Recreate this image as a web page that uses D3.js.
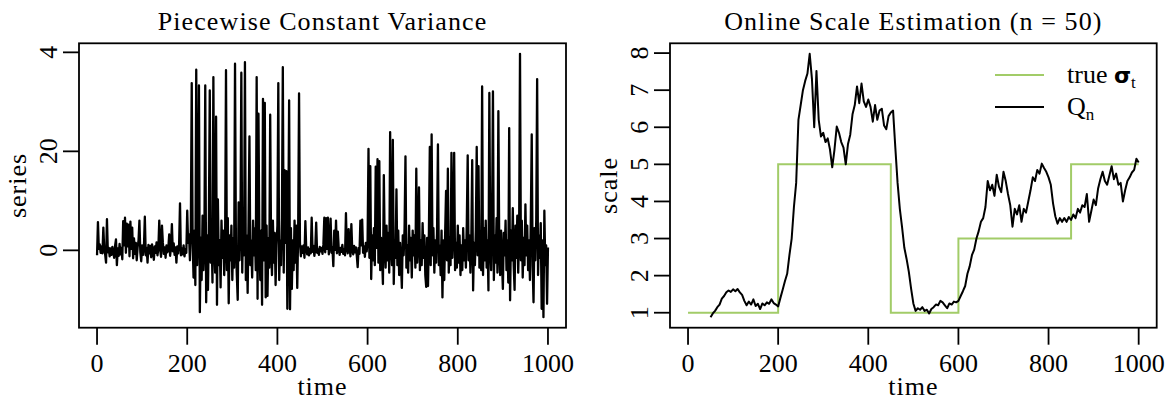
<!DOCTYPE html>
<html>
<head>
<meta charset="utf-8">
<script src="https://cdn.jsdelivr.net/npm/d3@7"></script>
<style>
  body { margin: 0; background: #fff; }
  text { font-family: "Liberation Serif", "Times New Roman", serif; fill: #000; }
</style>
</head>
<body>
<div id="chart"></div>
<script>
// left panel: simulated series, one value every 2 time units (t = 0, 2, ..., 1000)
const seriesValues = [
  -1.0, 5.7, 0.3, 1.2, -0.5, 0.8, -0.6, 4.6, 0.2, -0.8, -2.5, 6.3, -0.4, 0.5, -1.2, 0.4, -0.9, 0.7, -0.3, -1.5,
  0.9, 2.2, -3.0, 0.4, -1.1, 1.3, -0.8, 0.5, -1.8, 5.9, 1.0, 6.6, -0.5, 5.4, 0.8, 5.2, -1.2, 5.8, 0.3, 4.6,
  -1.6, 2.4, -0.7, 1.5, -2.0, 0.6, 2.0, 6.0, -0.4, -2.2,
  1.0, -0.9, 0.7, 6.8, -1.0, 0.5, -2.5, 1.1, -0.6, 0.9, -1.4, 1.2, -0.3, -1.9, 0.8, -0.5, 1.6, -1.0, 0.4, 6.0,
  0.2, -1.3, 5.0, 1.5, -0.7, 0.6, -1.5, 1.0, -0.4, 0.3, 3.2, -1.1, 0.5, 5.3, -0.2, 1.4, -0.9, 0.6, -2.5, 0.8,
  -0.6, 1.2, 9.5, -1.0, 0.4, -0.8, 1.0, -1.2, 0.3, -0.5,
  8.0, 1.5, 3.2, -2.0, 4.5, 33.8, 2.0, -5.5, 4.0, -7.0, 36.5, -3.0, 5.0, 33.3, -12.5, 2.5, -6.0, 7.0, -4.0, 1.0,
  33.3, -10.5, 3.0, -8.0, 5.5, 32.3, -2.5, 4.0, -6.5, 35.0, 0.5, -4.5, 27.0, -11.0, 10.3, -3.0, 2.0, -7.5, 6.0, -1.5,
  4.0, -5.0, 1.5, 36.4, -4.0, 6.5, -10.7, 3.0, -2.0, 5.0,
  -6.0, 2.5, -3.5, 37.7, 1.0, -5.0, -10.0, 9.7, -2.0, 4.0, 35.9, -4.5, 7.0, -1.0, 38.0, -6.0, 3.0, -8.6, 5.5, 23.0,
  -3.0, 2.0, -5.5, 6.0, -1.0, 4.5, -4.0, 35.0, -9.8, 27.6, 1.5, -6.0, 4.0, -11.0, 30.6, -2.0, 29.8, -9.5, 5.0, -9.2,
  2.5, -3.5, 27.4, 0.5, -5.0, 6.0, -2.5, 3.5, -7.0, 1.0,
  5.0, 33.8, -6.0, 2.0, -3.0, 6.5, 37.0, -4.5, 16.2, 1.5, 16.0, -11.8, 3.0, 30.3, -11.9, 4.5, -7.8, 2.0, -4.0, 6.0,
  -2.5, 5.0, -7.6, 3.5, 31.7, 1.5, -1.2, 0.8, -0.5, 1.0, -1.5, 5.9, 0.2, -0.8, 0.6, -1.0, 0.3, -0.6, 6.6, -0.3,
  0.9, -1.1, 0.4, 5.6, -0.5, 0.2, -0.9, 0.7, -0.2, 0.5,
  -0.7, 1.2, 6.6, -0.4, 6.5, 0.3, 6.6, -0.8, 1.0, 6.4, -0.5, 0.6, -3.2, 4.0, 0.1, 6.0, -0.6, 3.8, 0.4, -0.9,
  0.5, -0.3, 1.1, -0.7, 0.2, -1.0, 7.5, 0.4, -0.6, 4.3, 0.8, -1.2, 5.3, 0.0, -0.8, 0.9, -0.4, 0.6, -1.0, -3.4,
  0.5, -0.7, 6.0, 1.0, 6.2, -0.5, 0.8, -1.3, 1.5, -0.2,
  2.0, 20.5, -1.5, 17.0, -5.8, 3.0, -2.0, 4.5, -3.0, 16.9, 0.5, 18.4, -2.5, 18.0, -4.0, 2.5, -1.0, -6.8, 15.2, 1.0,
  -3.5, 5.0, -2.0, 3.5, -4.5, 23.9, 0.5, -3.0, 22.3, -6.8, 2.0, -1.5, 12.3, -3.0, 4.0, -5.0, 1.5, -2.5, -7.6, 3.0,
  -1.0, 4.5, 19.0, -3.5, 1.0, -4.5, 5.0, -2.0, 2.5, -5.5,
  4.0, -1.0, 3.0, -3.5, 16.5, -2.5, 1.5, 12.7, -4.0, 2.0, -3.0, 5.5, -1.5, 3.0, -5.0, -7.4, 2.5, -7.2, 4.0, 20.9,
  -3.0, 23.4, -1.0, 4.5, -4.5, 2.0, -2.5, 3.5, 21.4, -3.0, 1.0, -5.0, 4.0, -9.5, 2.0, -6.0, 3.5, 12.0, -2.0, 16.5,
  -4.5, 2.5, -3.0, 19.7, -1.5, 4.0, 19.7, -4.0, 1.5, -3.5,
  5.0, -2.5, 3.0, -5.0, 1.0, -4.0, 4.5, -2.0, 2.0, -3.5, 5.5, 19.2, -2.0, 3.0, -4.5, 2.0, 18.2, -8.1, 1.5, -3.0,
  4.0, 20.9, -1.0, 17.0, -3.5, 2.0, -4.0, 33.1, -5.0, 4.5, -2.0, 6.0, -3.5, 2.0, -8.1, 31.8, 1.0, -4.0, 5.5, 32.1,
  -6.0, 3.0, -2.5, 6.5, -4.5, 28.1, 0.5, -5.0, 4.0, -2.0,
  -7.8, 3.5, -1.0, 6.0, -4.0, 2.0, -6.5, 24.7, -10.1, 4.0, -2.0, 8.5, -3.0, -8.0, 5.0, -1.5, 7.0, -4.5, 3.0, 39.7,
  -2.0, 6.0, -5.5, 2.5, -3.0, 9.3, -1.0, 5.0, -4.0, 2.0, -6.0, 6.5, 23.4, -3.0, -10.5, 4.5, -2.0, 6.0, 34.6, -5.0,
  3.0, -1.5, 5.5, -11.8, 2.0, -13.5, 8.0, -3.0, 1.0, -10.8, 0.6
];
const seriesTime = seriesValues.map((v, i) => i * 2);

// right panel: Qn estimate every 5 time units from t = 50 to 1000
const qnTime = d3.range(50, 1001, 5);
const qnValues = [
  0.88, 0.98, 1.05, 1.15, 1.22, 1.38, 1.45, 1.55, 1.60, 1.56,
  1.63, 1.58, 1.64, 1.55, 1.48, 1.32, 1.20, 1.30, 1.22, 1.36, 1.18, 1.24, 1.10, 1.25, 1.20, 1.28, 1.24, 1.36, 1.26, 1.22,
  1.17, 1.40, 1.62, 1.85, 2.05, 2.55, 3.00, 3.85, 4.50, 6.20, 6.60, 7.00, 7.25, 7.45, 7.98, 7.30, 6.00, 7.52, 6.20, 5.75,
  5.85, 5.60, 5.70, 5.40, 4.92, 5.40, 6.02, 5.85, 5.60, 5.45, 5.00, 5.55, 5.80, 6.35, 6.60, 7.10, 6.65, 7.18, 6.70, 6.55,
  6.75, 6.55, 6.15, 6.60, 6.20, 6.45, 6.50, 6.05, 5.95, 6.30, 6.40, 6.45, 5.45, 4.50, 3.80, 3.30, 2.75, 2.45, 2.10, 1.65,
  1.25, 1.05, 1.12, 1.08, 1.15, 1.05, 1.08, 0.98, 1.10, 1.15, 1.22, 1.20, 1.32, 1.28, 1.20, 1.12, 1.25, 1.22, 1.30, 1.28,
  1.32, 1.45, 1.58, 1.72, 2.05, 2.25, 2.55, 2.70, 3.00, 3.20, 3.45, 3.55, 3.85, 4.55, 4.30, 4.45, 4.15, 4.72, 4.40, 4.25,
  4.80, 4.55, 4.20, 3.90, 3.32, 3.80, 3.65, 3.90, 3.45, 3.80, 3.70, 4.00, 4.30, 4.65, 4.55, 4.85, 4.75, 5.02, 4.90, 4.80,
  4.65, 4.45, 3.95, 3.60, 3.40, 3.55, 3.45, 3.55, 3.45, 3.58, 3.50, 3.65, 3.55, 3.80, 3.70, 3.90, 3.85, 4.20, 3.45, 3.75,
  4.05, 3.90, 4.35, 4.60, 4.80, 4.55, 4.45, 4.70, 4.95, 4.60, 4.75, 4.45, 4.50, 4.00, 4.30, 4.55, 4.65, 4.78, 4.85, 5.15,
  5.05
];

// true sigma, piecewise constant
const sigmaBreaks = [0, 200, 450, 600, 850, 1000];
const sigmaLevels = [1, 5, 1, 3, 5, 5];

const xTicks = [0, 200, 400, 600, 800, 1000];
const leftYTicks = [0, 20, 40];
const leftYLabels = ["0", "20", "4"];
const rightYTicks = [1, 2, 3, 4, 5, 6, 7, 8];

const width = 1170;
const height = 408;
const plotTop = 43.3;
const plotBottom = 327.7;
const green = "#a2cc68";

const svg = d3.select("#chart").append("svg")
  .attr("width", width).attr("height", height)
  .style("background", "#fff");

// R style padding: 4% on each side of the data range
function padded(lo, hi) {
  const p = (hi - lo) * 0.04;
  return [lo - p, hi + p];
}

function drawPanel(left, right, yDomain, yTicks, yLabels, title, ylab) {
  const x = d3.scaleLinear().domain(padded(0, 1000)).range([left, right]);
  const y = d3.scaleLinear().domain(yDomain).range([plotBottom, plotTop]);
  const g = svg.append("g");

  // x ticks and labels
  g.selectAll(".xt").data(xTicks).enter().append("line")
    .attr("x1", d => x(d)).attr("x2", d => x(d))
    .attr("y1", plotBottom).attr("y2", plotBottom + 17)
    .attr("stroke", "#000").attr("stroke-width", 1.8);
  g.selectAll(".xl").data(xTicks).enter().append("text")
    .attr("x", d => x(d)).attr("y", 371.5)
    .attr("text-anchor", "middle")
    .style("font-size", "26px")
    .text(d => d);

  // y ticks; labels run along the axis (read bottom to top)
  g.selectAll(".yt").data(yTicks).enter().append("line")
    .attr("x1", left - 16).attr("x2", left)
    .attr("y1", d => y(d)).attr("y2", d => y(d))
    .attr("stroke", "#000").attr("stroke-width", 1.8);
  const yl = g.selectAll(".yl").data(yTicks).enter().append("g")
    .attr("transform", d => "translate(" + (left - 22) + "," + y(d) + ")");
  yl.append("text")
    .attr("transform", "rotate(-90)")
    .attr("text-anchor", "middle")
    .style("font-size", "26px")
    .text((d, i) => yLabels[i]);

  g.append("text")
    .attr("x", (left + right) / 2).attr("y", 29.5)
    .attr("text-anchor", "middle")
    .style("font-size", "26px").style("letter-spacing", "1.1px")
    .text(title);

  g.append("text")
    .attr("x", (left + right) / 2).attr("y", 395)
    .attr("text-anchor", "middle")
    .style("font-size", "26px").style("letter-spacing", "1px")
    .text("time");

  g.append("text")
    .attr("transform", `translate(${left - 53},${(plotTop + plotBottom) / 2}) rotate(-90)`)
    .attr("text-anchor", "middle")
    .style("font-size", "26px").style("letter-spacing", "1px")
    .text(ylab);

  return { x, y };
}

// ---- left panel
const L = drawPanel(79, 566, padded(d3.min(seriesValues), d3.max(seriesValues)),
  leftYTicks, leftYLabels, "Piecewise Constant Variance", "series");

svg.append("path")
  .datum(seriesValues)
  .attr("fill", "none")
  .attr("stroke", "#000")
  .attr("stroke-width", 2.3)
  .attr("stroke-linejoin", "round")
  .attr("d", d3.line().x((d, i) => L.x(seriesTime[i])).y(d => L.y(d)));

svg.append("rect")
  .attr("x", 79).attr("y", plotTop)
  .attr("width", 566 - 79).attr("height", plotBottom - plotTop)
  .attr("fill", "none").attr("stroke", "#000").attr("stroke-width", 1.8);

// ---- right panel
const R = drawPanel(670, 1156.7, padded(d3.min(qnValues), d3.max(qnValues)),
  rightYTicks, rightYTicks.map(String), "Online Scale Estimation (n = 50)", "scale");

svg.append("path")
  .datum(sigmaLevels)
  .attr("fill", "none")
  .attr("stroke", green)
  .attr("stroke-width", 2)
  .attr("d", d3.line().curve(d3.curveStepAfter).x((d, i) => R.x(sigmaBreaks[i])).y(d => R.y(d)));

svg.append("path")
  .datum(qnValues)
  .attr("fill", "none")
  .attr("stroke", "#000")
  .attr("stroke-width", 2)
  .attr("stroke-linejoin", "round")
  .attr("d", d3.line().x((d, i) => R.x(qnTime[i])).y(d => R.y(d)));

svg.append("rect")
  .attr("x", 670).attr("y", plotTop)
  .attr("width", 1156.7 - 670).attr("height", plotBottom - plotTop)
  .attr("fill", "none").attr("stroke", "#000").attr("stroke-width", 1.8);

// legend
const legend = svg.append("g");
legend.append("line").attr("x1", 995).attr("x2", 1044).attr("y1", 75).attr("y2", 75)
  .attr("stroke", green).attr("stroke-width", 2);
legend.append("line").attr("x1", 995).attr("x2", 1044).attr("y1", 107).attr("y2", 107)
  .attr("stroke", "#000").attr("stroke-width", 2);

const t1 = legend.append("text").attr("x", 1067).attr("y", 83).style("font-size", "26px");
t1.append("tspan").text("true ");
t1.append("tspan").style("font-family", "DejaVu Sans").style("font-weight", "bold").style("font-size", "22px").text("σ");
t1.append("tspan").attr("dy", 5).style("font-size", "17px").text("t");

const t2 = legend.append("text").attr("x", 1067).attr("y", 115).style("font-size", "26px");
t2.append("tspan").text("Q");
t2.append("tspan").attr("dy", 5).style("font-size", "17px").text("n");
</script>
</body>
</html>
